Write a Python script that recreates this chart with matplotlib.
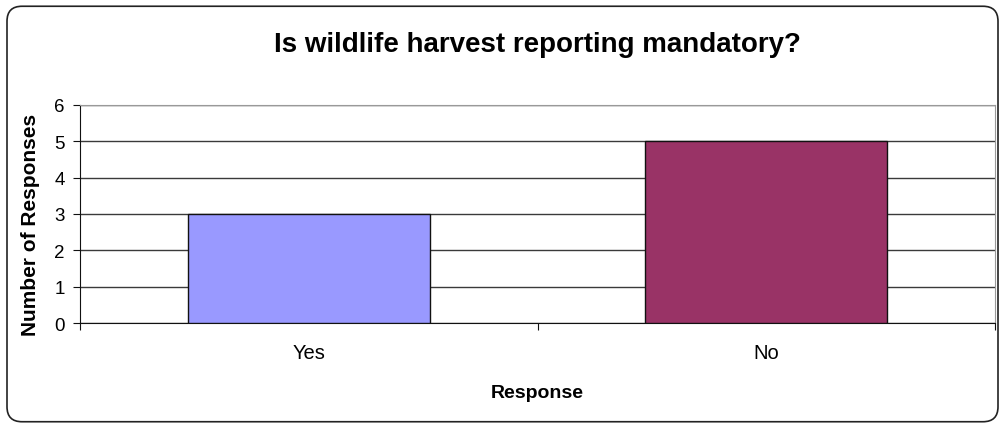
import matplotlib
matplotlib.use("Agg")
import matplotlib.pyplot as plt
from matplotlib.patches import FancyBboxPatch

# data
categories = ["Yes", "No"]
responses = [3, 5]
bar_colors = ["#9999FF", "#993366"]
y_ticks = [0, 1, 2, 3, 4, 5, 6]

title = "Is wildlife harvest reporting mandatory?"
x_label = "Response"
y_label = "Number of Responses"

plt.rcParams['font.family'] = ['Liberation Sans', 'DejaVu Sans']

fig = plt.figure(figsize=(10, 4.27), dpi=100)
ax = fig.add_axes([0.08, 0.241, 0.915, 0.511])

# rounded outer frame
frame = FancyBboxPatch((0.007, 0.01), 0.991, 0.973,
                       boxstyle="round,pad=0,rounding_size=0.015",
                       transform=fig.transFigure, facecolor="none",
                       edgecolor="#222222", linewidth=1.2, mutation_aspect=2.34)
fig.patches.append(frame)

x = range(len(categories))
ax.bar(x, responses, width=0.53, color=bar_colors, edgecolor="#111111",
       linewidth=1.0, zorder=3)

ax.set_xlim(-0.5, len(categories) - 0.5)
ax.set_ylim(0, 6)
ax.set_yticks(y_ticks)
ax.set_yticklabels([str(v) for v in y_ticks], fontsize=13.5)
ax.set_xticks([-0.5, 0.5, 1.5])
ax.set_xticklabels([])
ax.set_xticks(list(x), minor=True)
ax.set_xticklabels(categories, minor=True, fontsize=14.5)
ax.tick_params(axis="x", which="minor", length=0, pad=14)
ax.tick_params(axis="x", which="major", length=5, direction="out", color="#111111")
ax.tick_params(axis="y", length=5, direction="out", pad=6, color="#111111")

ax.yaxis.grid(True, color="#3a3a3a", linewidth=1.0, zorder=0)
ax.set_axisbelow(True)
for side in ["top", "right"]:
    ax.spines[side].set_color("#999999")
for side in ["left", "bottom"]:
    ax.spines[side].set_color("#111111")

ax.set_xlabel(x_label, fontsize=14, fontweight="bold", va="center")
ax.xaxis.set_label_coords(0.5, -0.316)
ax.set_ylabel(y_label, fontsize=15, fontweight="bold", va="center", ha="center")
ax.yaxis.set_label_coords(-0.0536, 0.454)
fig.text(0.537, 0.895, title, ha="center", va="center", fontsize=20,
         fontweight="bold")

fig.savefig("out.png", dpi=100)
